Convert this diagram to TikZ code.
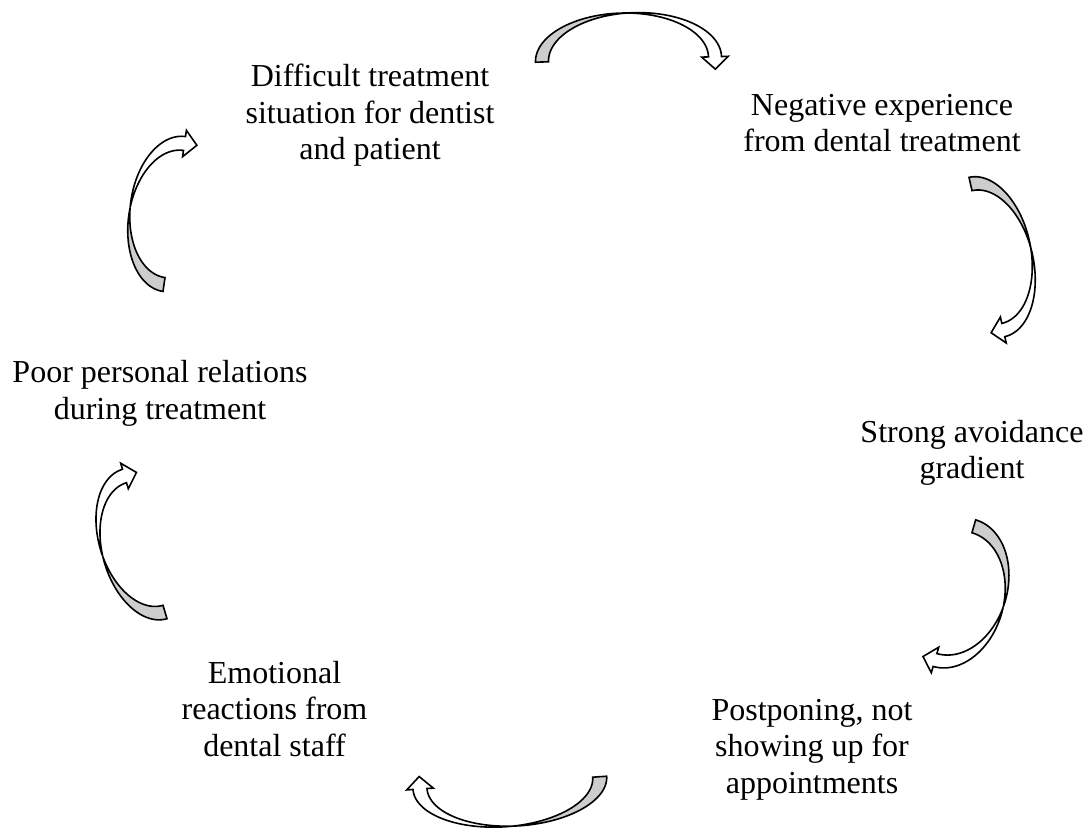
\documentclass[tikz,border=0pt]{standalone}
\usepackage{fontspec}
\setmainfont{Liberation Serif}
\definecolor{arrowgray}{RGB}{205,205,205}

% Curved block arrow between a tail centre and a head centre.
% #1,#2 tail centre; #3,#4 head-base centre; #5 bulge; #6 band width.
% The band is the region between two equal half ellipses shifted by the
% band width: the tail half shows its grey back face, the head half is white.
\newcommand\cyclearrow[6]{%
  \pgfmathsetmacro\caDx{#3-#1}%
  \pgfmathsetmacro\caDy{#2-#4}%
  \pgfmathsetmacro\caAng{atan2(\caDy,\caDx)}%
  \pgfmathsetmacro\caRx{veclen(\caDx,\caDy)/2}%
  \pgfmathsetmacro\caMx{(#1+#3)/2}%
  \pgfmathsetmacro\caMy{(#2+#4)/2}%
  \pgfmathsetmacro\caRy{#5}%
  \pgfmathsetmacro\caW{#6}%
  \pgfmathsetmacro\caTa{acos(\caW/(2*\caRx))}%
  \pgfmathsetmacro\caTb{180-\caTa}%
  \pgfmathsetmacro\caHo{\caRx+13.3}%
  \pgfmathsetmacro\caHi{\caRx-13.3}%
  \begin{scope}[shift={(\caMx,\caMy)},rotate=\caAng,yscale=-1]
    \filldraw[backface]
      plot[domain=180:\caTa,samples=40] ({-\caW/2+\caRx*cos(\x)},{\caRy*sin(\x)})
      -- plot[domain=\caTb:180,samples=40] ({\caW/2+\caRx*cos(\x)},{\caRy*sin(\x)})
      -- cycle;
    \filldraw[frontface]
      plot[domain=\caTb:0,samples=40] ({\caW/2+\caRx*cos(\x)},{\caRy*sin(\x)})
      -- (\caHo,0) -- (\caRx,-12.5) -- (\caHi,0)
      -- plot[domain=0:\caTa,samples=40] ({-\caW/2+\caRx*cos(\x)},{\caRy*sin(\x)})
      -- cycle;
  \end{scope}}

\begin{document}
\begin{tikzpicture}[x=1pt,y=-1pt,
  backface/.style={fill=arrowgray,draw=black,line width=1.6pt,line join=miter},
  frontface/.style={fill=white,draw=black,line width=1.6pt,line join=miter},
  stage/.style={align=center,anchor=base,inner sep=0pt,
    font=\fontsize{32}{36.5}\selectfont}]
  \useasboundingbox (0,0) rectangle (1087,828);

  % stages of the cycle (node base = baseline of the last line)
  \node[stage] (difficult) at (370,159.5)
    {Difficult treatment\\situation for dentist\\and patient};
  \node[stage] (negative) at (882,151.5)
    {Negative experience\\from dental treatment};
  \node[stage] (avoid) at (972,478.5)
    {Strong avoidance\\gradient};
  \node[stage] (postpone) at (812,793)
    {Postponing, not\\showing up for\\appointments};
  \node[stage] (emotional) at (274.5,756)
    {Emotional\\reactions from\\dental staff};
  \node[stage] (poor) at (160,419.2)
    {Poor personal relations\\during treatment};

  % curved arrows, clockwise around the cycle
  \cyclearrow{542}{62}{715}{56.7}{46.5}{13}
  \cyclearrow{970.5}{184}{1003.3}{330}{45}{13.6}
  \cyclearrow{973.8}{526.3}{935}{660}{51}{13.4}
  \cyclearrow{599.7}{776.7}{420}{789}{43.5}{14}
  \cyclearrow{165}{612}{124.5}{476}{44}{14}
  \cyclearrow{164}{284.5}{184.5}{143.5}{44.8}{14}
\end{tikzpicture}
\end{document}
